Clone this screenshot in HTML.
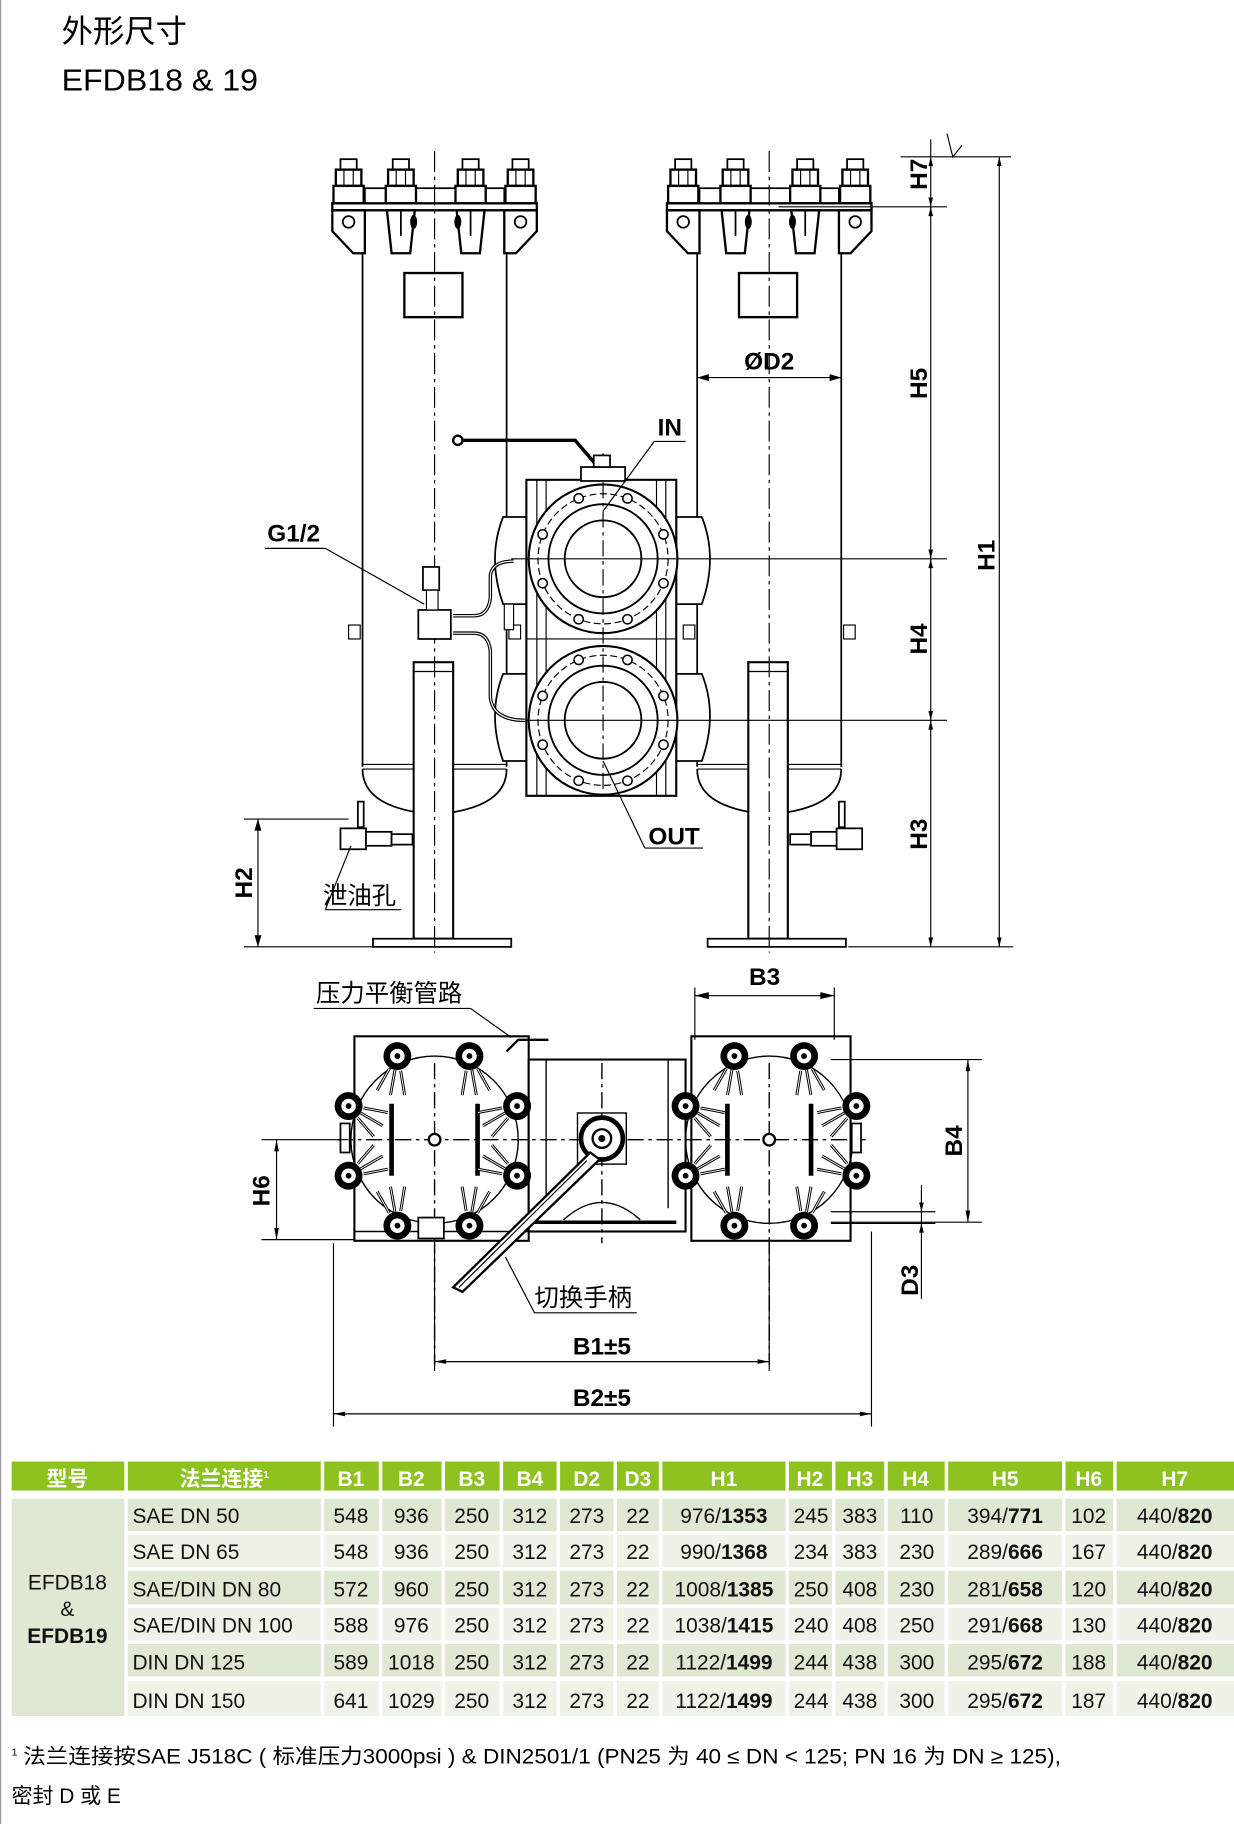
<!DOCTYPE html>
<html><head><meta charset="utf-8"><style>
html,body{margin:0;padding:0;background:#fff;width:1234px;height:1824px;overflow:hidden}
svg{display:block}
text{font-family:"Liberation Sans","Noto Sans CJK SC",sans-serif}
</style></head><body>
<svg width="1234" height="1824" viewBox="0 0 1062 1570" preserveAspectRatio="none" xmlns="http://www.w3.org/2000/svg">
<defs>
<g id="nut">
 <rect x="-7" y="2" width="14" height="9" fill="#fff" stroke="#000" stroke-width="1.5"/>
 <rect x="-11" y="11" width="22" height="14" fill="#fff" stroke="#000" stroke-width="2"/>
 <rect x="-13" y="25" width="26" height="15" fill="#fff" stroke="#000" stroke-width="2"/>
 <line x1="-4" y1="11" x2="-4" y2="25" stroke="#000"/><line x1="4" y1="11" x2="4" y2="25" stroke="#000"/>
</g>
<g id="pbolt">
 <circle r="12" fill="#000"/>
 <circle r="7" fill="#fff" stroke="#000" stroke-width="1.5"/>
 <circle r="2.5" fill="#000"/>
 <path d="M-5,12 l-7,20 M5,12 l7,20 M0,12 v22" stroke="#000" stroke-width="2.5" fill="none"/>
 <path d="M-5,12 l-7,20 M5,12 l7,20 M0,12 v22" stroke="#fff" stroke-width="0.8" fill="none"/>
</g>
<g id="flange">
 <circle r="64" fill="#fff" stroke="#000" stroke-width="1.8"/>
 <circle r="56" fill="none" stroke="#000" stroke-width="1" stroke-dasharray="6,3"/>
 <circle r="47" fill="none" stroke="#000" stroke-width="1.6"/>
 <circle r="33" fill="none" stroke="#000" stroke-width="1.6"/>
 <g fill="#fff" stroke="#000" stroke-width="1.3">
  <circle cx="-21" cy="-52" r="4"/><circle cx="21" cy="-52" r="4"/>
  <circle cx="-52" cy="-21" r="4"/><circle cx="52" cy="-21" r="4"/>
  <circle cx="-52" cy="21" r="4"/><circle cx="52" cy="21" r="4"/>
  <circle cx="-21" cy="52" r="4"/><circle cx="21" cy="52" r="4"/>
 </g>
</g>
<g id="tank">
 <!-- head -->
 <rect x="-60" y="27" width="120" height="13" fill="#fff" stroke="#000" stroke-width="1.5"/>
 <use href="#nut" x="-74"/><use href="#nut" x="-29"/><use href="#nut" x="31"/><use href="#nut" x="74"/>
 <rect x="-88" y="40" width="176" height="6" fill="#fff" stroke="#000" stroke-width="2"/>
 <g fill="#fff" stroke="#000" stroke-width="2">
  <path d="M-88,46 H-60 V83 H-70 L-88,64 Z"/><path d="M88,46 H60 V83 H70 L88,64 Z"/>
  <path d="M-41,46 H-17 L-21,83 H-37 Z"/><path d="M19,46 H43 L39,83 H23 Z"/>
 </g>
 <circle cx="-74" cy="56" r="5" fill="#fff" stroke="#000" stroke-width="1.5"/>
 <circle cx="74" cy="56" r="5" fill="#fff" stroke="#000" stroke-width="1.5"/>
 <path d="M-29,46 v22 M31,46 v22" stroke="#000" stroke-width="1.5"/>
 <ellipse cx="-18" cy="56" rx="3" ry="6" fill="#000"/><ellipse cx="20" cy="56" rx="3" ry="6" fill="#000"/>
 <!-- body -->
 <line x1="-62" y1="83" x2="-62" y2="525" stroke="#000" stroke-width="1.5"/>
 <line x1="62" y1="83" x2="62" y2="525" stroke="#000" stroke-width="1.5"/>
 <line x1="-62" y1="523" x2="62" y2="523" stroke="#000" stroke-width="1"/>
 <line x1="-62" y1="527" x2="62" y2="527" stroke="#000" stroke-width="1"/>
 <path d="M-62,527 Q-62,558 -10,565 L10,565 Q62,558 62,527" fill="none" stroke="#000" stroke-width="1.5"/>
 <rect x="-26" y="100" width="50" height="38" fill="none" stroke="#000" stroke-width="2"/>
 <rect x="-74" y="403" width="10" height="12" fill="#fff" stroke="#000"/>
 <rect x="64" y="403" width="10" height="12" fill="#fff" stroke="#000"/>
 <!-- leg -->
 <rect x="-18" y="435" width="34" height="238" fill="#fff" stroke="#000" stroke-width="1.8"/>
 <line x1="-18" y1="443" x2="16" y2="443" stroke="#000"/>
 <rect x="-53" y="673" width="119" height="7" fill="#fff" stroke="#000" stroke-width="1.5"/>
 <line x1="0" y1="-5" x2="0" y2="685" stroke="#000" stroke-width="1" stroke-dasharray="18,4,3,4"/>
</g>
</defs>

<line x1="0.5" y1="0" x2="0.5" y2="1570" stroke="#999" stroke-width="1"/>
<text x="53" y="36" font-size="27">外形尺寸</text>
<text x="53" y="78" font-size="26" textLength="169" lengthAdjust="spacingAndGlyphs">EFDB18 &amp; 19</text>

<!-- ELEVATION -->
<use href="#tank" x="374" y="135"/>
<use href="#tank" x="662" y="135"/>
<g fill="#fff" stroke="#000" stroke-width="1.5">
 <path d="M455,445 h-22 q-14,35 0,75 h22 z"/><path d="M455,580 h-22 q-14,35 0,75 h22 z"/>
 <path d="M582,445 h22 q14,35 0,75 h-22 z"/><path d="M582,580 h22 q14,35 0,75 h-22 z"/>
</g>
<rect x="453" y="413" width="129" height="272" fill="#fff" stroke="#000" stroke-width="1.8"/>
<g stroke="#000" stroke-width="1">
 <line x1="462" y1="413" x2="462" y2="685"/><line x1="470" y1="413" x2="470" y2="685"/>
 <line x1="565" y1="413" x2="565" y2="685"/><line x1="573" y1="413" x2="573" y2="685"/>
 <line x1="453" y1="550" x2="582" y2="550"/>
</g>
<use href="#flange" x="519" y="481"/>
<use href="#flange" x="519" y="620"/>
<line x1="519" y1="390" x2="519" y2="690" stroke="#000" stroke-dasharray="14,4,3,4"/>
<line x1="440" y1="481" x2="815" y2="481" stroke="#000" stroke-width="1"/>
<line x1="440" y1="620" x2="815" y2="620" stroke="#000" stroke-width="1"/>
<path d="M395,379 H495 L513,400" fill="none" stroke="#000" stroke-width="3"/>
<circle cx="394" cy="379" r="4" fill="#fff" stroke="#000" stroke-width="2"/>
<rect x="500" y="402" width="38" height="12" fill="#fff" stroke="#000" stroke-width="1.5"/>
<rect x="511" y="392" width="14" height="10" fill="#fff" stroke="#000" stroke-width="1.5"/>
<rect x="360" y="525" width="28" height="25" fill="#fff" stroke="#000" stroke-width="1.5"/>
<rect x="364" y="488" width="14" height="20" fill="#fff" stroke="#000" stroke-width="1.5"/>
<rect x="367" y="508" width="10" height="17" fill="#fff" stroke="#000"/>
<path d="M390,530 h18 q12,0 14,-15 v-20 q2,-12 20,-12 M390,545 h18 q12,0 14,15 v40 q2,20 30,20" fill="none" stroke="#000" stroke-width="3"/>
<path d="M390,530 h18 q12,0 14,-15 v-20 q2,-12 20,-12 M390,545 h18 q12,0 14,15 v40 q2,20 30,20" fill="none" stroke="#fff" stroke-width="1"/>
<rect x="434" y="520" width="8" height="22" fill="#fff" stroke="#000"/>
<g fill="#fff" stroke="#000" stroke-width="1.5">
 <rect x="293" y="713" width="22" height="18"/><rect x="315" y="716" width="22" height="12"/><rect x="337" y="718" width="18" height="9"/>
 <rect x="308" y="690" width="5" height="22"/>
 <rect x="720" y="713" width="22" height="18"/><rect x="698" y="716" width="22" height="12"/><rect x="680" y="718" width="18" height="9"/>
 <rect x="722" y="690" width="5" height="22"/>
</g>
<g stroke="#000" stroke-width="1" fill="none">
 <line x1="775" y1="135" x2="870" y2="135"/><line x1="670" y1="178" x2="815" y2="178"/>
 <line x1="730" y1="815" x2="872" y2="815"/><line x1="210" y1="815" x2="330" y2="815"/>
 <line x1="801" y1="120" x2="801" y2="815"/><line x1="860" y1="135" x2="860" y2="815"/>
 <line x1="210" y1="705" x2="300" y2="705"/><line x1="222" y1="705" x2="222" y2="815"/>
 <line x1="600" y1="325" x2="724" y2="325"/>
 <path d="M815,115 l5,20 l8,-10"/>
 <line x1="228" y1="472" x2="280" y2="472"/><line x1="280" y1="472" x2="365" y2="520"/>
 <line x1="280" y1="783" x2="345" y2="783"/><line x1="280" y1="783" x2="302" y2="728"/>
 <line x1="563" y1="380" x2="590" y2="380"/><line x1="563" y1="380" x2="519" y2="440"/>
 <line x1="555" y1="730" x2="605" y2="730"/><line x1="555" y1="730" x2="519" y2="655"/>
</g>
<g fill="#000">
 <path d="M801,178 l-2,-8 h4z M801,178 l-2,8 h4z M801,481 l-2,-8 h4z M801,481 l-2,8 h4z M801,620 l-2,-8 h4z M801,620 l-2,8 h4z M801,815 l-2,-8 h4z M801,135 l-2,8 h4z"/>
 <path d="M860,135 l-2,8 h4z M860,815 l-2,-8 h4z M222,705 l-3,10 h6z M222,815 l-3,-10 h6z"/>
 <path d="M600,325 l10,-3 v6z M724,325 l-10,-3 v6z"/>
</g>
<g font-size="21" font-weight="bold">
 <text transform="translate(798,150) rotate(-90)" text-anchor="middle">H7</text>
 <text transform="translate(798,330) rotate(-90)" text-anchor="middle">H5</text>
 <text transform="translate(798,550) rotate(-90)" text-anchor="middle">H4</text>
 <text transform="translate(798,718) rotate(-90)" text-anchor="middle">H3</text>
 <text transform="translate(856,478) rotate(-90)" text-anchor="middle">H1</text>
 <text transform="translate(217,760) rotate(-90)" text-anchor="middle">H2</text>
 <text x="662" y="318" text-anchor="middle">ØD2</text>
 <text x="566" y="375">IN</text>
 <text x="558" y="727">OUT</text>
 <text x="230" y="466">G1/2</text>
</g>
<text x="278" y="778" font-size="21">泄油孔</text>

<!-- PLAN VIEW -->
<g fill="#fff" stroke="#000" stroke-width="1.8">
 <rect x="305" y="892" width="150" height="176"/>
 <rect x="595" y="892" width="137" height="176"/>
 <rect x="455" y="912" width="135" height="148"/>
</g>
<g stroke="#000" stroke-width="1.2" fill="none">
 <circle cx="374" cy="981" r="72"/><circle cx="662" cy="981" r="72"/>
 <line x1="337" y1="950" x2="337" y2="1012" stroke-width="4"/><line x1="411" y1="950" x2="411" y2="1012" stroke-width="4"/>
 <line x1="626" y1="950" x2="626" y2="1012" stroke-width="4"/><line x1="698" y1="950" x2="698" y2="1012" stroke-width="4"/>
 <line x1="470" y1="912" x2="470" y2="1040"/><line x1="575" y1="912" x2="575" y2="1040"/>
 <rect x="497" y="958" width="42" height="44"/>
 <path d="M485,1050 q33,-30 66,0"/>
 <line x1="460" y1="1052" x2="582" y2="1052" stroke-width="3"/>
 <line x1="290" y1="981" x2="745" y2="981" stroke-dasharray="14,4,3,4"/>
 <line x1="374" y1="915" x2="374" y2="1175" stroke-dasharray="14,4,3,4"/>
 <line x1="662" y1="915" x2="662" y2="1175" stroke-dasharray="14,4,3,4"/>
 <line x1="518" y1="915" x2="518" y2="1070" stroke-dasharray="14,4,3,4"/>
 <line x1="305" y1="1060" x2="455" y2="1060"/>
</g>
<circle cx="374" cy="981" r="5" fill="#fff" stroke="#000" stroke-width="2"/>
<circle cx="662" cy="981" r="5" fill="#fff" stroke="#000" stroke-width="2"/>
<circle cx="518" cy="980" r="18" fill="#fff" stroke="#000" stroke-width="4"/>
<circle cx="518" cy="980" r="8" fill="#fff" stroke="#000" stroke-width="2"/>
<circle cx="518" cy="980" r="3" fill="#000"/>
<path d="M508,992 L390,1108 L398,1112 L516,998 Z" fill="#fff" stroke="#000" stroke-width="2"/>
<line x1="505" y1="999" x2="395" y2="1108" stroke="#000" stroke-width="1"/>
<g>
 <use href="#pbolt" transform="translate(342,909) rotate(10)"/>
 <use href="#pbolt" transform="translate(404,909) rotate(-10)"/>
 <use href="#pbolt" transform="translate(300,952) rotate(-60)"/>
 <use href="#pbolt" transform="translate(300,1012) rotate(-120)"/>
 <use href="#pbolt" transform="translate(445,952) rotate(60)"/>
 <use href="#pbolt" transform="translate(445,1012) rotate(120)"/>
 <use href="#pbolt" transform="translate(342,1055) rotate(170)"/>
 <use href="#pbolt" transform="translate(404,1055) rotate(190)"/>
 <use href="#pbolt" transform="translate(632,909) rotate(10)"/>
 <use href="#pbolt" transform="translate(692,909) rotate(-10)"/>
 <use href="#pbolt" transform="translate(590,952) rotate(-60)"/>
 <use href="#pbolt" transform="translate(590,1012) rotate(-120)"/>
 <use href="#pbolt" transform="translate(737,952) rotate(60)"/>
 <use href="#pbolt" transform="translate(737,1012) rotate(120)"/>
 <use href="#pbolt" transform="translate(632,1055) rotate(170)"/>
 <use href="#pbolt" transform="translate(692,1055) rotate(190)"/>
</g>
<g fill="#fff" stroke="#000" stroke-width="1.5">
 <rect x="360" y="1048" width="22" height="18"/>
 <rect x="293" y="967" width="8" height="25"/><rect x="733" y="967" width="8" height="25"/>
</g>
<path d="M436,905 l10,-10 h26" fill="none" stroke="#000" stroke-width="2"/>
<g stroke="#000" stroke-width="1" fill="none">
 <line x1="598" y1="850" x2="598" y2="895"/><line x1="718" y1="850" x2="718" y2="895"/>
 <line x1="598" y1="857" x2="718" y2="857"/>
 <line x1="715" y1="912" x2="845" y2="912"/><line x1="715" y1="1052" x2="845" y2="1052"/>
 <line x1="833" y1="912" x2="833" y2="1052"/>
 <line x1="225" y1="981" x2="300" y2="981"/><line x1="225" y1="1067" x2="305" y2="1067"/>
 <line x1="238" y1="981" x2="238" y2="1067"/>
 <line x1="715" y1="1043" x2="805" y2="1043"/><line x1="715" y1="1053" x2="805" y2="1053"/>
 <line x1="793" y1="1020" x2="793" y2="1118"/>
 <line x1="374" y1="1070" x2="374" y2="1180"/><line x1="662" y1="1070" x2="662" y2="1180"/>
 <line x1="287" y1="1070" x2="287" y2="1228"/><line x1="750" y1="1060" x2="750" y2="1228"/>
 <line x1="374" y1="1172" x2="662" y2="1172"/><line x1="287" y1="1217" x2="750" y2="1217"/>
 <line x1="270" y1="868" x2="405" y2="868"/><line x1="405" y1="868" x2="440" y2="893"/>
 <line x1="460" y1="1130" x2="548" y2="1130"/><line x1="460" y1="1130" x2="435" y2="1082"/>
</g>
<g fill="#000">
 <path d="M598,857 l12,-3 v6z M718,857 l-12,-3 v6z M833,912 l-2,10 h4z M833,1052 l-2,-10 h4z"/>
 <path d="M238,981 l-2,10 h4z M238,1067 l-2,-10 h4z M793,1043 l-2,-8 h4z M793,1053 l-2,8 h4z"/>
 <path d="M374,1172 l10,-2 v4z M662,1172 l-10,-2 v4z M287,1217 l10,-2 v4z M750,1217 l-10,-2 v4z"/>
</g>
<g font-size="21" font-weight="bold">
 <text x="658" y="848" text-anchor="middle">B3</text>
 <text transform="translate(828,982) rotate(-90)" text-anchor="middle">B4</text>
 <text transform="translate(232,1025) rotate(-90)" text-anchor="middle">H6</text>
 <text transform="translate(790,1102) rotate(-90)" text-anchor="middle">D3</text>
 <text x="518" y="1166" text-anchor="middle">B1±5</text>
 <text x="518" y="1210" text-anchor="middle">B2±5</text>
</g>
<text x="272" y="862" font-size="21">压力平衡管路</text>
<text x="460" y="1124" font-size="21">切换手柄</text>

<!-- TABLE -->
<g fill="#8dc21f">
 <rect x="10" y="1258" width="97" height="25"/><rect x="110" y="1258" width="166" height="25"/>
 <rect x="279" y="1258" width="47" height="25"/><rect x="329" y="1258" width="51" height="25"/>
 <rect x="383" y="1258" width="47" height="25"/><rect x="433" y="1258" width="46" height="25"/>
 <rect x="482" y="1258" width="46" height="25"/><rect x="531" y="1258" width="36" height="25"/>
 <rect x="570" y="1258" width="106" height="25"/><rect x="679" y="1258" width="37" height="25"/>
 <rect x="719" y="1258" width="42" height="25"/><rect x="764" y="1258" width="49" height="25"/>
 <rect x="816" y="1258" width="98" height="25"/><rect x="917" y="1258" width="41" height="25"/>
 <rect x="961" y="1258" width="101" height="25"/>
</g>
<g fill="#fff" font-size="18" font-weight="bold" text-anchor="middle">
 <text x="58" y="1279">型号</text><text x="193" y="1279">法兰连接<tspan font-size="9" dy="-7">1</tspan></text>
 <text x="302" y="1279">B1</text><text x="354" y="1279">B2</text><text x="406" y="1279">B3</text>
 <text x="456" y="1279">B4</text><text x="505" y="1279">D2</text><text x="549" y="1279">D3</text>
 <text x="623" y="1279">H1</text><text x="697" y="1279">H2</text><text x="740" y="1279">H3</text>
 <text x="788" y="1279">H4</text><text x="865" y="1279">H5</text><text x="937" y="1279">H6</text>
 <text x="1011" y="1279">H7</text>
</g>
<rect x="10" y="1290" width="97" height="187" fill="#dfe8d3"/>
<g>
 <rect x="110" y="1290" width="952" height="28" fill="#dfe8d3"/>
 <rect x="110" y="1321" width="952" height="28" fill="#eef3e8"/>
 <rect x="110" y="1352" width="952" height="29" fill="#dfe8d3"/>
 <rect x="110" y="1384" width="952" height="28" fill="#eef3e8"/>
 <rect x="110" y="1415" width="952" height="28" fill="#dfe8d3"/>
 <rect x="110" y="1447" width="952" height="30" fill="#eef3e8"/>
</g>
<g stroke="#fff" stroke-width="3">
 <line x1="277.5" y1="1290" x2="277.5" y2="1477"/><line x1="327.5" y1="1290" x2="327.5" y2="1477"/>
 <line x1="381.5" y1="1290" x2="381.5" y2="1477"/><line x1="431.5" y1="1290" x2="431.5" y2="1477"/>
 <line x1="480.5" y1="1290" x2="480.5" y2="1477"/><line x1="529.5" y1="1290" x2="529.5" y2="1477"/>
 <line x1="568.5" y1="1290" x2="568.5" y2="1477"/><line x1="677.5" y1="1290" x2="677.5" y2="1477"/>
 <line x1="717.5" y1="1290" x2="717.5" y2="1477"/><line x1="762.5" y1="1290" x2="762.5" y2="1477"/>
 <line x1="814.5" y1="1290" x2="814.5" y2="1477"/><line x1="915.5" y1="1290" x2="915.5" y2="1477"/>
 <line x1="959.5" y1="1290" x2="959.5" y2="1477"/>
</g>
<g font-size="18" fill="#111">
 <text x="58" y="1368" text-anchor="middle">EFDB18</text>
 <text x="58" y="1391" text-anchor="middle">&amp;</text>
 <text x="58" y="1414" text-anchor="middle" font-weight="bold">EFDB19</text>
 <g>
  <text x="114" y="1311">SAE DN 50</text><text x="114" y="1342">SAE DN 65</text>
  <text x="114" y="1374">SAE/DIN DN 80</text><text x="114" y="1405">SAE/DIN DN 100</text>
  <text x="114" y="1437">DIN DN 125</text><text x="114" y="1470">DIN DN 150</text>
 </g>
 <g text-anchor="middle">
  <text x="302" y="1311">548</text><text x="354" y="1311">936</text><text x="406" y="1311">250</text><text x="456" y="1311">312</text><text x="505" y="1311">273</text><text x="549" y="1311">22</text><text x="623" y="1311">976/<tspan font-weight="bold">1353</tspan></text><text x="698" y="1311">245</text><text x="740" y="1311">383</text><text x="789" y="1311">110</text><text x="865" y="1311">394/<tspan font-weight="bold">771</tspan></text><text x="937" y="1311">102</text><text x="1011" y="1311">440/<tspan font-weight="bold">820</tspan></text>
  <text x="302" y="1342">548</text><text x="354" y="1342">936</text><text x="406" y="1342">250</text><text x="456" y="1342">312</text><text x="505" y="1342">273</text><text x="549" y="1342">22</text><text x="623" y="1342">990/<tspan font-weight="bold">1368</tspan></text><text x="698" y="1342">234</text><text x="740" y="1342">383</text><text x="789" y="1342">230</text><text x="865" y="1342">289/<tspan font-weight="bold">666</tspan></text><text x="937" y="1342">167</text><text x="1011" y="1342">440/<tspan font-weight="bold">820</tspan></text>
  <text x="302" y="1374">572</text><text x="354" y="1374">960</text><text x="406" y="1374">250</text><text x="456" y="1374">312</text><text x="505" y="1374">273</text><text x="549" y="1374">22</text><text x="623" y="1374">1008/<tspan font-weight="bold">1385</tspan></text><text x="698" y="1374">250</text><text x="740" y="1374">408</text><text x="789" y="1374">230</text><text x="865" y="1374">281/<tspan font-weight="bold">658</tspan></text><text x="937" y="1374">120</text><text x="1011" y="1374">440/<tspan font-weight="bold">820</tspan></text>
  <text x="302" y="1405">588</text><text x="354" y="1405">976</text><text x="406" y="1405">250</text><text x="456" y="1405">312</text><text x="505" y="1405">273</text><text x="549" y="1405">22</text><text x="623" y="1405">1038/<tspan font-weight="bold">1415</tspan></text><text x="698" y="1405">240</text><text x="740" y="1405">408</text><text x="789" y="1405">250</text><text x="865" y="1405">291/<tspan font-weight="bold">668</tspan></text><text x="937" y="1405">130</text><text x="1011" y="1405">440/<tspan font-weight="bold">820</tspan></text>
  <text x="302" y="1437">589</text><text x="354" y="1437">1018</text><text x="406" y="1437">250</text><text x="456" y="1437">312</text><text x="505" y="1437">273</text><text x="549" y="1437">22</text><text x="623" y="1437">1122/<tspan font-weight="bold">1499</tspan></text><text x="698" y="1437">244</text><text x="740" y="1437">438</text><text x="789" y="1437">300</text><text x="865" y="1437">295/<tspan font-weight="bold">672</tspan></text><text x="937" y="1437">188</text><text x="1011" y="1437">440/<tspan font-weight="bold">820</tspan></text>
  <text x="302" y="1470">641</text><text x="354" y="1470">1029</text><text x="406" y="1470">250</text><text x="456" y="1470">312</text><text x="505" y="1470">273</text><text x="549" y="1470">22</text><text x="623" y="1470">1122/<tspan font-weight="bold">1499</tspan></text><text x="698" y="1470">244</text><text x="740" y="1470">438</text><text x="789" y="1470">300</text><text x="865" y="1470">295/<tspan font-weight="bold">672</tspan></text><text x="937" y="1470">187</text><text x="1011" y="1470">440/<tspan font-weight="bold">820</tspan></text>
 </g>
</g>
<text x="10" y="1511" font-size="9">1</text>
<text x="20" y="1518" font-size="18" textLength="893" lengthAdjust="spacingAndGlyphs">法兰连接按SAE J518C ( 标准压力3000psi )  &amp; DIN2501/1 (PN25 为 40 ≤ DN &lt; 125; PN 16 为 DN ≥ 125),</text>
<text x="10" y="1552" font-size="18">密封 D 或 E</text>
</svg>
</body></html>
